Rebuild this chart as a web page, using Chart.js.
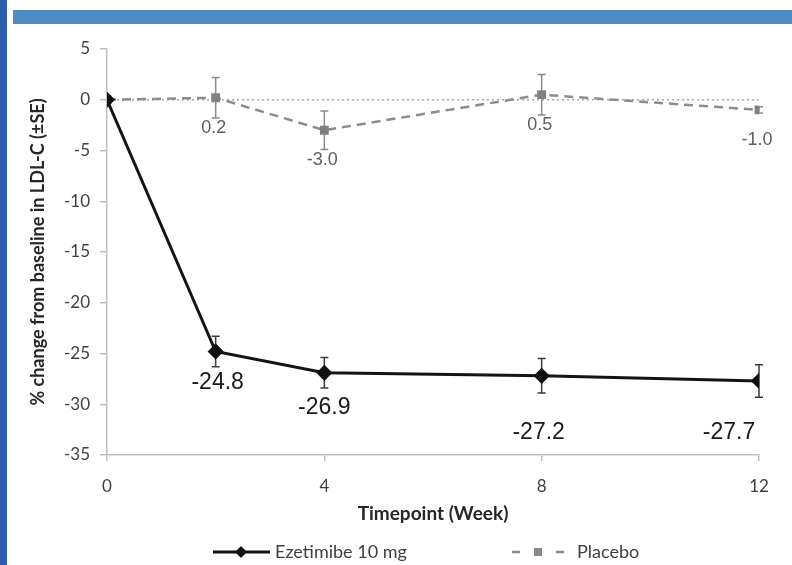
<!DOCTYPE html>
<html lang="en">
  <head>
    <meta charset="UTF-8" />
    <title>LDL-C change from baseline</title>
    <script src="https://cdn.jsdelivr.net/npm/chart.js"></script>
    <style>
      html, body { margin: 0; padding: 0; background: #fff; }
      #wrap { position: relative; width: 792px; height: 565px; overflow: hidden; }
      #leftBar { position: absolute; left: 0; top: 0; width: 7px; height: 565px; background: #2b5cae; }
      #topBar { position: absolute; left: 13px; top: 10px; width: 779px; height: 14px; background: #508bc6; }
      #chart { position: absolute; left: 0; top: 0; }
    </style>
  </head>
  <body>
    <div id="wrap">
      <canvas id="chart" width="792" height="565"></canvas>
      <div id="leftBar"></div>
      <div id="topBar"></div>
    </div>

    <script>
      // weeks on the x axis
      const weeks = [0, 2, 4, 8, 12];
      const xTicks = [0, 4, 8, 12];
      const yTicks = [5, 0, -5, -10, -15, -20, -25, -30, -35];

      // % change from baseline (mean) and standard errors
      const ezetimibe = [0, -24.8, -26.9, -27.2, -27.7];
      const ezetimibeSE = [0, 1.5, 1.5, 1.7, 1.6];
      const placebo = [0, 0.2, -3.0, 0.5, -1.0];
      const placeboSE = [0, 2.0, 1.9, 2.0, 0.3];

      const seriesNames = ["Ezetimibe 10 mg", "Placebo"];

      const toPoints = (vals) => vals.map((v, i) => ({ x: weeks[i], y: v }));

      const sansFont = "Lato, 'Open Sans', sans-serif";
      const narrowFont = "'Liberation Sans Narrow', 'Liberation Sans', sans-serif";

      // error bars drawn from the SE arrays
      const errorBars = {
        id: "errorBars",
        beforeDatasetsDraw(chart) {
          const ctx = chart.ctx;
          const xs = chart.scales.x;
          const ys = chart.scales.y;
          const sets = [
            { vals: ezetimibe, se: ezetimibeSE, color: "#3a3a3a" },
            { vals: placebo, se: placeboSE, color: "#8a8a8a" },
          ];
          ctx.save();
          sets.forEach((s) => {
            ctx.strokeStyle = s.color;
            ctx.lineWidth = 1.5;
            s.vals.forEach((v, i) => {
              if (!s.se[i]) return;
              const px = xs.getPixelForValue(weeks[i]);
              const top = ys.getPixelForValue(v + s.se[i]);
              const bot = ys.getPixelForValue(v - s.se[i]);
              ctx.beginPath();
              ctx.moveTo(px, top);
              ctx.lineTo(px, bot);
              ctx.moveTo(px - 4, top);
              ctx.lineTo(px + 4, top);
              ctx.moveTo(px - 4, bot);
              ctx.lineTo(px + 4, bot);
              ctx.stroke();
            });
          });
          ctx.restore();
        },
      };

      // value labels under the points (skip baseline)
      const ezeOffsets = [[0, 0], [2, 31], [0, 35], [-3, 57], [-30, 52]];
      const valueLabels = {
        id: "valueLabels",
        afterDatasetsDraw(chart) {
          const ctx = chart.ctx;
          const xs = chart.scales.x;
          const ys = chart.scales.y;
          ctx.save();
          ctx.textAlign = "center";
          ctx.textBaseline = "middle";
          ctx.font = "23px " + narrowFont;
          ctx.fillStyle = "#1a1a1a";
          ezetimibe.forEach((v, i) => {
            if (i === 0) return;
            const px = xs.getPixelForValue(weeks[i]) + ezeOffsets[i][0];
            const py = ys.getPixelForValue(v) + ezeOffsets[i][1];
            ctx.fillText(v.toFixed(1), px, py);
          });
          ctx.font = "18px " + narrowFont;
          ctx.fillStyle = "#5e5e5e";
          placebo.forEach((v, i) => {
            if (i === 0) return;
            const px = xs.getPixelForValue(weeks[i]) - 2;
            const py = ys.getPixelForValue(v) + 30;
            ctx.fillText(v.toFixed(1), px, py);
          });
          ctx.restore();
        },
      };

      // legend with line + marker, like the original
      const lineLegend = {
        id: "lineLegend",
        afterDraw(chart) {
          const ctx = chart.ctx;
          const y = 552;
          ctx.save();
          // Ezetimibe
          ctx.strokeStyle = "#111";
          ctx.lineWidth = 3;
          ctx.beginPath();
          ctx.moveTo(213, y);
          ctx.lineTo(270, y);
          ctx.stroke();
          ctx.fillStyle = "#111";
          ctx.beginPath();
          ctx.moveTo(241, y - 6);
          ctx.lineTo(247, y);
          ctx.lineTo(241, y + 6);
          ctx.lineTo(235, y);
          ctx.closePath();
          ctx.fill();
          // Placebo
          ctx.strokeStyle = "#8a8a8a";
          ctx.lineWidth = 2.5;
          ctx.setLineDash([8, 14]);
          ctx.beginPath();
          ctx.moveTo(512, y);
          ctx.lineTo(566, y);
          ctx.stroke();
          ctx.setLineDash([]);
          ctx.fillStyle = "#8a8a8a";
          ctx.fillRect(534, y - 4, 8, 8);
          ctx.font = "18px " + sansFont;
          ctx.fillStyle = "#404040";
          ctx.textBaseline = "middle";
          ctx.fillText(seriesNames[0], 275, y);
          ctx.fillText(seriesNames[1], 577, y);
          ctx.restore();
        },
      };

      const ctx = document.getElementById("chart").getContext("2d");
      new Chart(ctx, {
        type: "line",
        data: {
          datasets: [
            {
              label: "baseline",
              data: [{ x: 0, y: 0 }, { x: 12, y: 0 }],
              borderColor: "#a6a6a6",
              borderWidth: 1.5,
              borderDash: [2, 3],
              pointRadius: 0,
              order: 3,
            },
            {
              label: seriesNames[1],
              data: toPoints(placebo),
              borderColor: "#8c8c8c",
              borderWidth: 2.5,
              borderDash: [9, 6],
              pointStyle: "rect",
              pointRadius: 4.5,
              pointBackgroundColor: "#808080",
              pointBorderColor: "#808080",
              order: 2,
            },
            {
              label: seriesNames[0],
              data: toPoints(ezetimibe),
              borderColor: "#141414",
              borderWidth: 3,
              pointStyle: "rectRot",
              pointRadius: 6,
              pointBackgroundColor: "#111",
              pointBorderColor: "#111",
              order: 1,
            },
          ],
        },
        options: {
          responsive: false,
          animation: false,
          layout: { padding: { left: 20, right: 33, top: 49, bottom: 40 } },
          plugins: {
            legend: { display: false },
            tooltip: { enabled: false },
          },
          scales: {
            x: {
              type: "linear",
              min: 0,
              max: 12,
              afterBuildTicks: (s) => { s.ticks = xTicks.map((v) => ({ value: v })); },
              afterFit: (s) => { s.height = 70; },
              border: { color: "#bfbfbf", width: 1.5 },
              grid: { drawOnChartArea: false, color: "#bfbfbf", tickLength: 6, lineWidth: 1.5 },
              ticks: {
                color: "#404040",
                font: { family: sansFont, size: 17 },
                padding: 15,
              },
              title: {
                display: true,
                text: "Timepoint (Week)",
                color: "#262626",
                font: { family: sansFont, size: 19, weight: "bold" },
                padding: { top: 4, bottom: 0 },
              },
            },
            y: {
              type: "linear",
              min: -35,
              max: 5,
              afterBuildTicks: (s) => { s.ticks = yTicks.map((v) => ({ value: v })); },
              afterFit: (s) => { s.width = 87; },
              border: { color: "#bfbfbf", width: 1.5 },
              grid: { drawOnChartArea: false, color: "#bfbfbf", tickLength: 7, lineWidth: 1.5 },
              ticks: {
                color: "#404040",
                font: { family: sansFont, size: 17 },
                padding: 10,
              },
              title: {
                display: true,
                text: "% change from baseline in LDL-C (±SE)",
                color: "#262626",
                font: { family: sansFont, size: 18, weight: "bold" },
                padding: { top: 7, bottom: 0 },
              },
            },
          },
        },
        plugins: [errorBars, valueLabels, lineLegend],
      });
    </script>
  </body>
</html>
